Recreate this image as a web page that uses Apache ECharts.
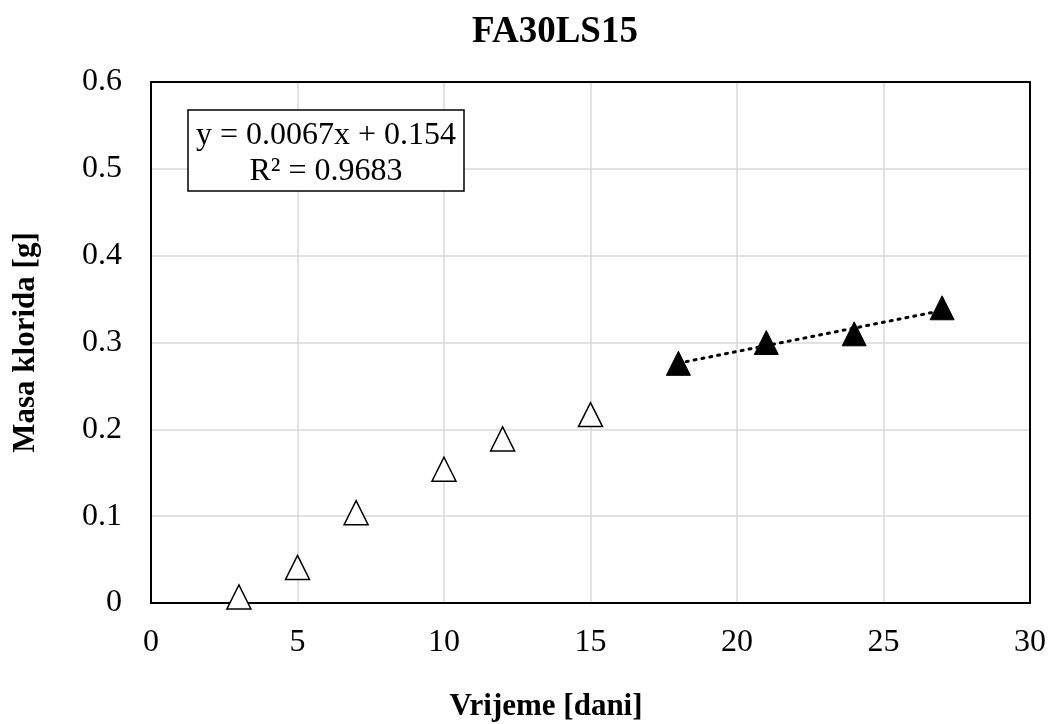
<!DOCTYPE html>
<html><head><meta charset="utf-8">
<script src="https://cdn.jsdelivr.net/npm/echarts@6/dist/echarts.min.js"></script>
<style>html,body{margin:0;padding:0;background:#fff}#c{width:1050px;height:724px}</style>
</head><body><div id="c"></div>
<script>
const chartTitle = 'FA30LS15';
const xName = 'Vrijeme [dani]';
const yName = 'Masa klorida [g]';
const openX = [3, 5, 7, 10, 12, 15];
const openY = [0.007, 0.041, 0.104, 0.154, 0.189, 0.217];
const filledX = [18, 21, 24, 27];
const filledY = [0.276, 0.300, 0.310, 0.340];
const equationLines = ['y = 0.0067x + 0.154', 'R² = 0.9683'];

// least-squares trendline through the filled points
const n = filledX.length;
const mx = filledX.reduce((a, b) => a + b, 0) / n;
const my = filledY.reduce((a, b) => a + b, 0) / n;
let sxy = 0, sxx = 0;
for (let i = 0; i < n; i++) { sxy += (filledX[i] - mx) * (filledY[i] - my); sxx += (filledX[i] - mx) ** 2; }
const slope = sxy / sxx, icpt = my - slope * mx;
const trendX = [filledX[0], filledX[n - 1]];
const trend = trendX.map(x => [x, icpt + slope * x]);

const font = '"Liberation Serif","Times New Roman",serif';
const chart = echarts.init(document.getElementById('c'));
const frameAxis = {
  axisLine: { show: true, onZero: false, lineStyle: { color: '#000', width: 2 } },
  axisTick: { show: false }, axisLabel: { show: false }, splitLine: { show: false }
};
chart.setOption({
  animation: false,
  backgroundColor: '#fff',
  grid: { left: 151, right: 20, top: 82, bottom: 121 },
  xAxis: [{
    type: 'value', min: 0, max: 30, interval: 5,
    axisLine: { show: true, onZero: false, lineStyle: { color: '#000', width: 2 } },
    axisTick: { show: false },
    axisLabel: { fontFamily: font, fontSize: 32, color: '#000', margin: 24 },
    splitLine: { show: true, lineStyle: { color: '#d9d9d9', width: 1.5 } }
  }, Object.assign({ type: 'value', min: 0, max: 30, position: 'top' }, frameAxis)],
  yAxis: [{
    type: 'value', min: 0, max: 0.6, interval: 0.1,
    name: yName, nameLocation: 'middle', nameGap: 110, nameRotate: 90,
    nameTextStyle: { fontFamily: font, fontSize: 31, fontWeight: 'bold', color: '#000' },
    axisLine: { show: true, onZero: false, lineStyle: { color: '#000', width: 2 } },
    axisTick: { show: false },
    axisLabel: { fontFamily: font, fontSize: 32, color: '#000', margin: 29 },
    splitLine: { show: true, lineStyle: { color: '#d9d9d9', width: 1.5 } }
  }, Object.assign({ type: 'value', min: 0, max: 0.6, position: 'right' }, frameAxis)],
  graphic: [
    { type: 'text', x: 555, y: 32, z: 100,
      style: { text: chartTitle, fontFamily: font, fontSize: 37, fontWeight: 'bold', fill: '#000',
        align: 'center', verticalAlign: 'middle' } },
    { type: 'text', x: 546, y: 707, z: 100,
      style: { text: xName, fontFamily: font, fontSize: 31, fontWeight: 'bold', fill: '#000',
        align: 'center', verticalAlign: 'middle' } },
    {
      type: 'group', x: 188, y: 110, z: 100,
      children: [
        { type: 'rect', z: 100, shape: { x: 0, y: 0, width: 276, height: 81 },
          style: { fill: '#fff', stroke: '#000', lineWidth: 1.5 } },
        { type: 'text', z: 101, x: 138, y: 44,
          style: { text: equationLines.join('\n'), fontFamily: font, fontSize: 32, fill: '#000',
            align: 'center', verticalAlign: 'middle', lineHeight: 36 } }
      ]
    }
  ],
  series: [
    { type: 'line', data: trend, symbol: 'none', z: 1,
      lineStyle: { color: '#000', width: 3, type: [2, 6], cap: 'round' } },
    { type: 'scatter', data: openX.map((x, i) => [x, openY[i]]), symbol: 'triangle', symbolSize: [24, 24], z: 3,
      itemStyle: { color: '#fff', borderColor: '#000', borderWidth: 1.5, opacity: 1 } },
    { type: 'scatter', data: filledX.map((x, i) => [x, filledY[i]]), symbol: 'triangle', symbolSize: [24, 24], z: 3,
      itemStyle: { color: '#000', borderColor: '#000', borderWidth: 1, opacity: 1 } }
  ]
});
</script></body></html>
